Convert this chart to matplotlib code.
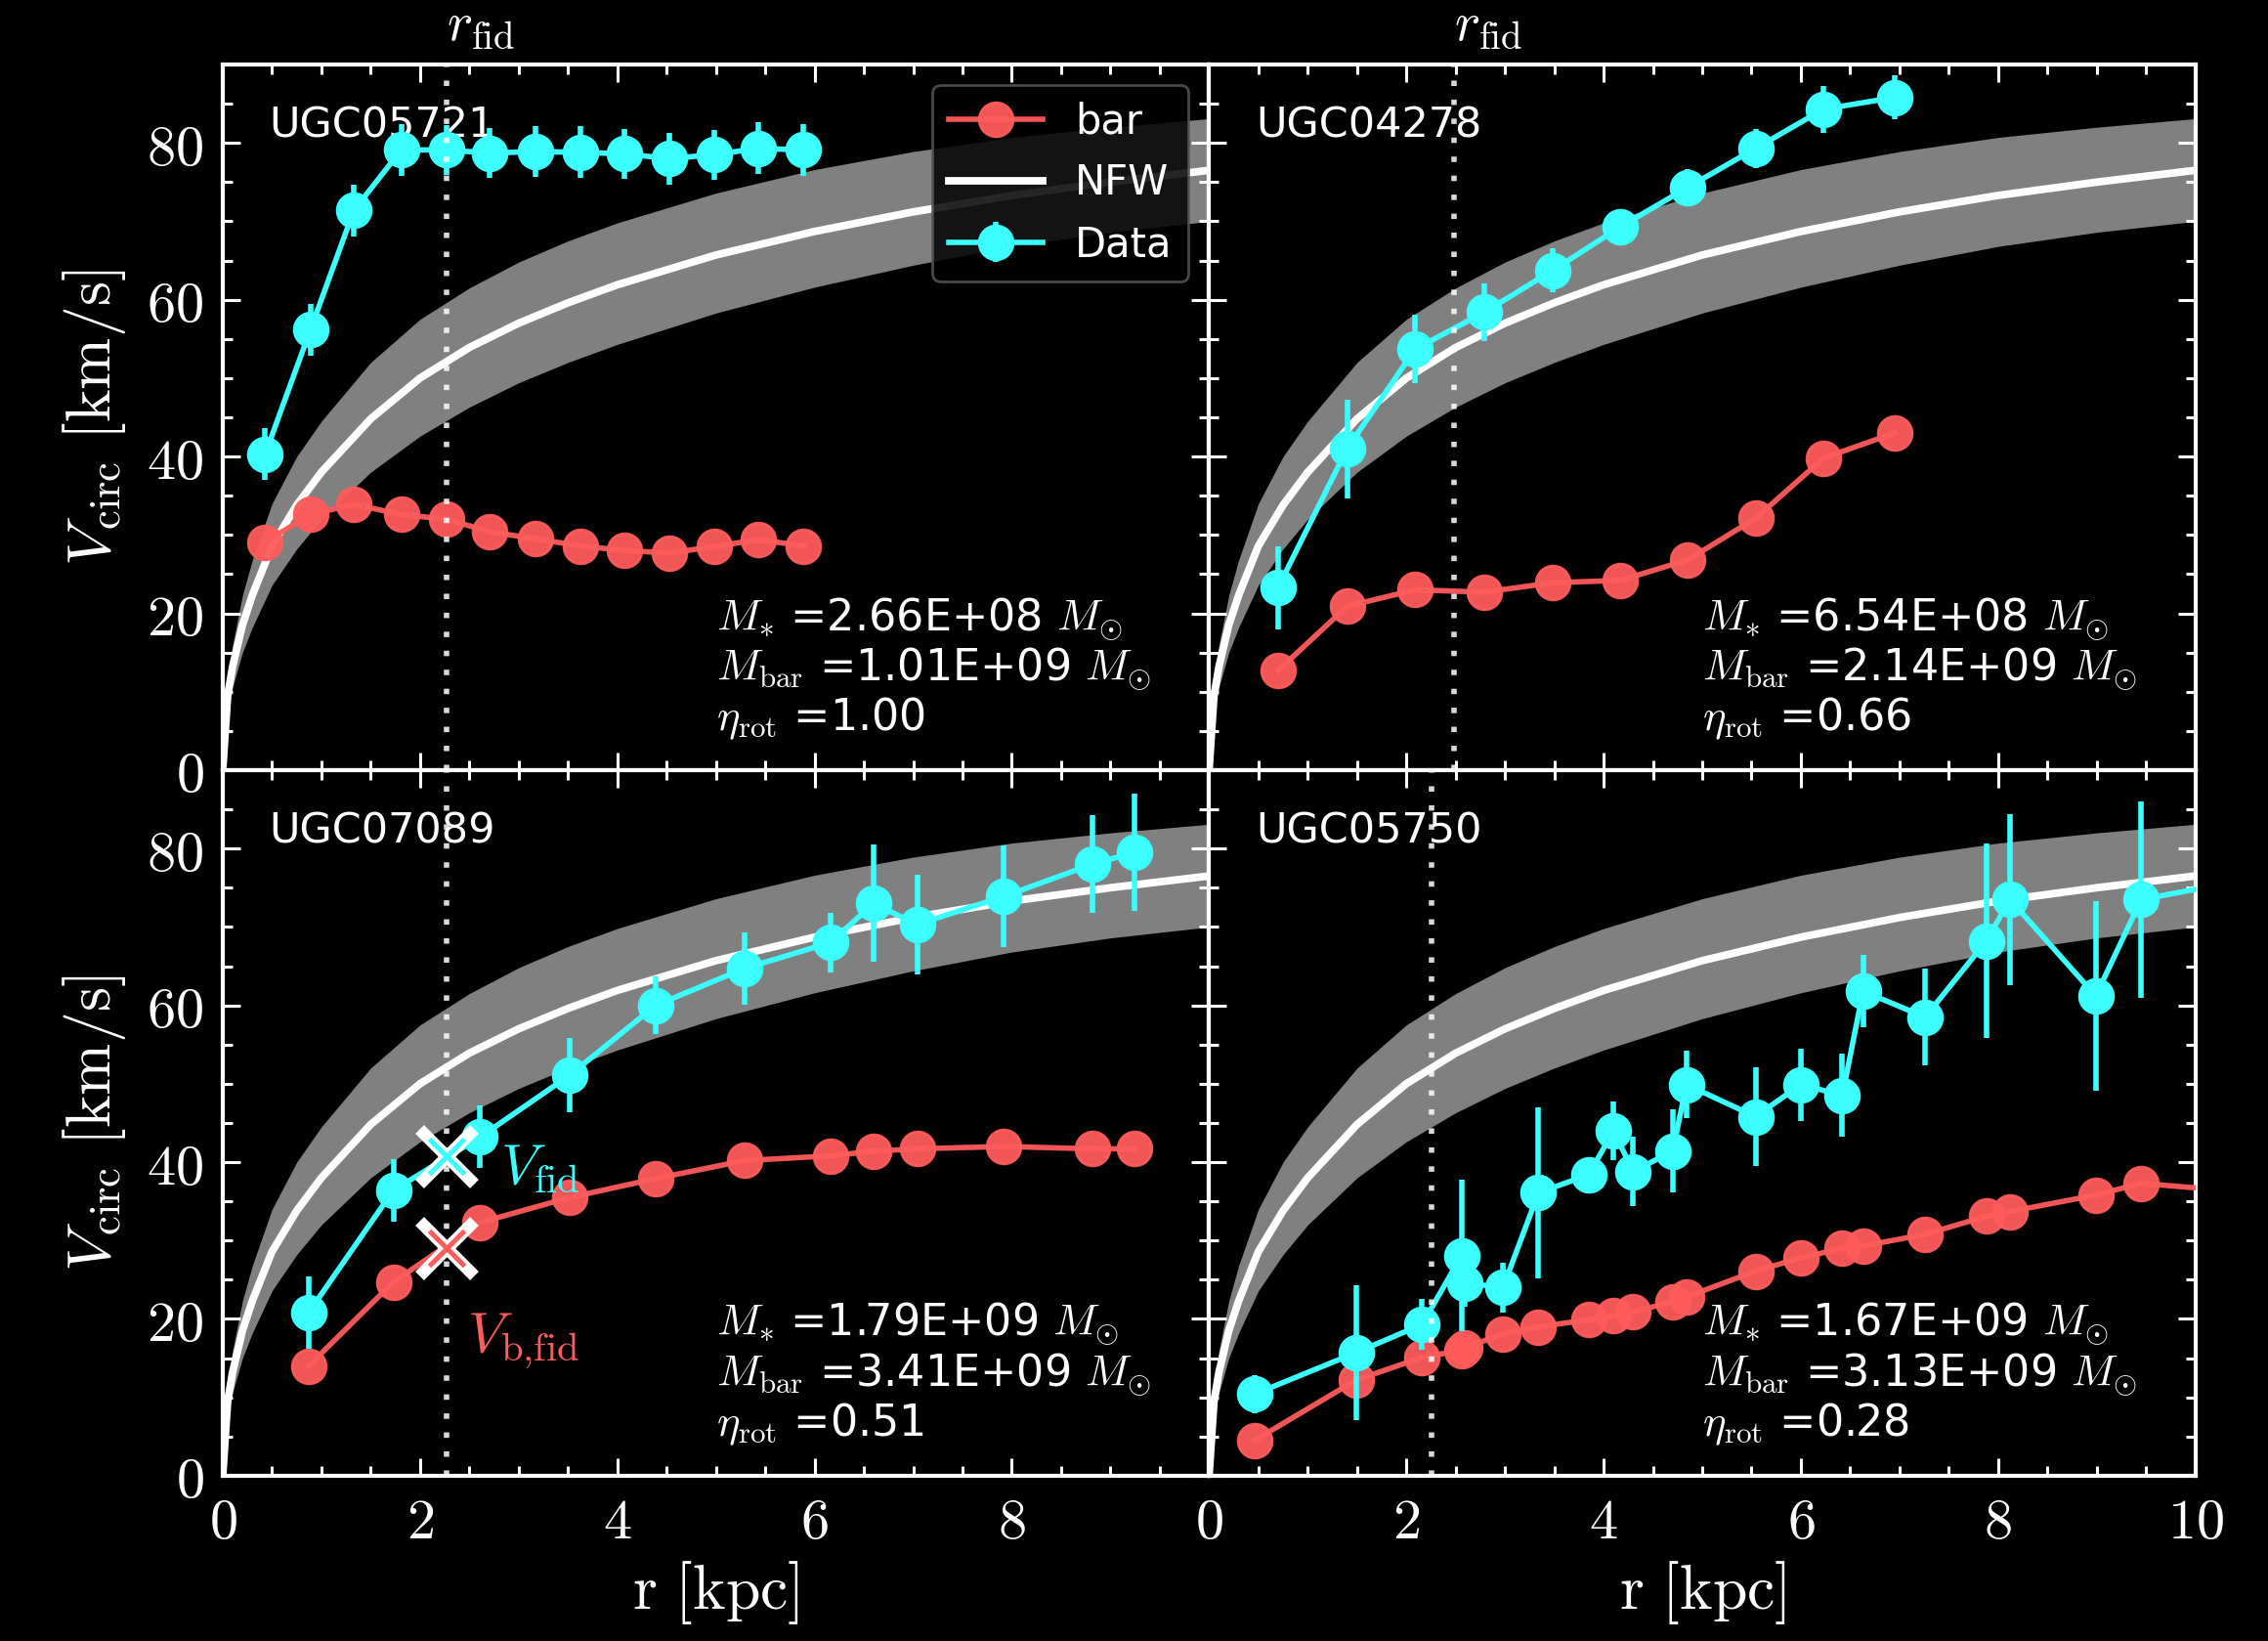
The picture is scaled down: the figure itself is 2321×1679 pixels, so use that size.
import matplotlib.pyplot as plt
from matplotlib.ticker import MultipleLocator, FuncFormatter

plt.rcParams['mathtext.fontset'] = 'cm'
plt.rcParams['font.family'] = 'DejaVu Sans'

# NFW model curve and its scatter band
nfw_r = [0, 0.05, 0.1, 0.2, 0.3, 0.5, 0.75, 1.0, 1.5, 2.0, 2.5, 3.0, 3.5, 4.0, 5.0, 6.0, 7.0, 8.0, 9.0, 10.0]
nfw_v = [0, 9.5, 13.2, 18.5, 22.3, 28.6, 33.8, 38.0, 44.8, 50.0, 53.9, 57.0, 59.6, 61.9, 65.7, 68.7, 71.2, 73.3, 75.0, 76.5]
nfw_hi = [0, 11.5, 16.0, 22.3, 26.8, 34.0, 40.0, 44.5, 52.0, 57.5, 61.5, 64.8, 67.5, 69.8, 73.6, 76.6, 78.9, 80.7, 82.0, 83.1]
nfw_lo = [0, 7.5, 10.6, 15.0, 18.2, 23.6, 28.2, 32.0, 38.0, 42.6, 46.3, 49.4, 52.0, 54.3, 58.3, 61.6, 64.4, 66.8, 68.6, 70.0]

names = ['UGC05721', 'UGC04278', 'UGC07089', 'UGC05750']
r_fid = [2.27, 2.48, 2.27, 2.26]
mstar = ['2.66E+08', '6.54E+08', '1.79E+09', '1.67E+09']
mbar = ['1.01E+09', '2.14E+09', '3.41E+09', '3.13E+09']
eta = ['1.00', '0.66', '0.51', '0.28']

# UGC05721
r1 = [0.43, 0.89, 1.33, 1.81, 2.27, 2.71, 3.17, 3.63, 4.07, 4.53, 4.98, 5.43, 5.89]
v1_data = [40.3, 56.2, 71.4, 79.1, 79.1, 78.7, 78.9, 78.8, 78.6, 78.0, 78.5, 79.3, 79.1]
e1_data = [3.3, 3.3, 3.3, 3.3, 3.2, 3.2, 3.2, 3.3, 3.2, 3.3, 3.2, 3.3, 3.3]
v1_bar = [29.1, 32.6, 33.9, 32.6, 32.0, 30.4, 29.5, 28.6, 28.0, 27.7, 28.5, 29.4, 28.6]

# UGC04278
r2 = [0.70, 1.40, 2.09, 2.79, 3.48, 4.17, 4.85, 5.54, 6.23, 6.95]
v2_data = [23.3, 41.0, 53.7, 58.4, 63.7, 69.3, 74.3, 79.3, 84.3, 85.8]
e2_data = [5.3, 6.3, 4.4, 3.7, 2.8, 2.3, 2.3, 2.5, 3.0, 2.8]
v2_bar = [12.7, 20.9, 23.0, 22.7, 23.9, 24.2, 26.8, 32.1, 39.8, 43.0]

# UGC07089
r3 = [0.87, 1.73, 2.61, 3.52, 4.39, 5.29, 6.16, 6.60, 7.04, 7.92, 8.82, 9.24]
v3_data = [20.8, 36.4, 43.2, 51.1, 60.0, 64.7, 68.0, 73.0, 70.3, 73.9, 78.0, 79.5]
e3_data = [4.6, 4.0, 4.0, 4.7, 3.7, 4.6, 3.8, 7.5, 6.3, 6.5, 6.2, 7.5]
v3_bar = [14.0, 24.7, 32.3, 35.5, 37.9, 40.2, 40.8, 41.4, 41.7, 42.0, 41.7, 41.7]
v_fid = 40.8
vb_fid = 29.0

# UGC05750
r4 = [0.46, 1.49, 2.16, 2.56, 2.59, 2.98, 3.34, 3.85, 4.10, 4.30, 4.70, 4.84, 5.54, 6.00,
      6.42, 6.63, 7.26, 7.88, 8.12, 8.99, 9.45, 10.3]
v4_data = [10.4, 15.7, 19.3, 28.1, 24.6, 24.0, 36.1, 38.4, 44.0, 38.8, 41.4, 49.9, 45.8, 49.9,
           48.5, 61.8, 58.5, 68.2, 73.5, 61.2, 73.5, 75.5]
e4_data = [2.4, 8.6, 3.2, 9.6, 3.0, 3.2, 10.9, 2.0, 3.7, 4.4, 5.3, 4.3, 6.3, 4.6,
           5.3, 4.6, 6.2, 12.4, 10.9, 12.1, 12.5, 3.0]
v4_bar = [4.5, 12.2, 15.1, 16.0, 16.3, 18.1, 19.0, 19.9, 20.4, 20.9, 22.2, 22.8, 26.1, 27.8,
          29.0, 29.3, 30.8, 33.1, 33.7, 35.8, 37.3, 36.4]

r_all = [r1, r2, r3, r4]
data_all = [v1_data, v2_data, v3_data, v4_data]
err_all = [e1_data, e2_data, e3_data, e4_data]
bar_all = [v1_bar, v2_bar, v3_bar, v4_bar]

red = '#ff5c5c'
cyan = '#3cffff'

fig, axes = plt.subplots(2, 2, figsize=(11.605, 8.395), dpi=200, facecolor='black')
fig.subplots_adjust(left=0.0982, right=0.968, top=0.9607, bottom=0.1007, hspace=0, wspace=0)

for i, ax in enumerate(axes.flat):
    row, col = divmod(i, 2)
    ax.set_facecolor('black')

    ax.fill_between(nfw_r, nfw_lo, nfw_hi, color='0.5', lw=0, zorder=1)
    h_nfw, = ax.plot(nfw_r, nfw_v, color='white', lw=2.8, zorder=2, label='NFW')
    h_bar, = ax.plot(r_all[i], bar_all[i], '-o', color=red, ms=12.5, lw=2.0, alpha=0.95,
                     zorder=3, label='bar')
    h_data = ax.errorbar(r_all[i], data_all[i], yerr=err_all[i], fmt='-o', color=cyan, ms=12.5,
                         lw=2.0, elinewidth=2.0, capsize=0, zorder=4, label='Data')
    ax.axvline(r_fid[i], color='white', lw=2, ls=(0, (1, 2.5)), alpha=0.85, zorder=5)

    if row == 0:
        ax.text(r_fid[i], 1.018, r'$r_{\rm fid}$', transform=ax.get_xaxis_transform(),
                ha='left', va='bottom', color='white', fontsize=20)

    ax.text(0.047, 0.897, names[i], transform=ax.transAxes, color='white', fontsize=15.5)
    ax.text(0.50, 0.198, r'$M_{*}$ =' + mstar[i] + r' $M_{\odot}$', transform=ax.transAxes,
            color='white', fontsize=16)
    ax.text(0.50, 0.126, r'$M_{\rm bar}$ =' + mbar[i] + r' $M_{\odot}$', transform=ax.transAxes,
            color='white', fontsize=16)
    ax.text(0.50, 0.056, r'$\eta_{\rm rot}$ =' + eta[i], transform=ax.transAxes,
            color='white', fontsize=16)

    ax.set_xlim(0, 10)
    ax.set_ylim(0, 90)
    ax.xaxis.set_major_locator(MultipleLocator(2))
    ax.xaxis.set_minor_locator(MultipleLocator(0.5))
    ax.yaxis.set_major_locator(MultipleLocator(20))
    ax.yaxis.set_minor_locator(MultipleLocator(5))
    if col == 0:
        ax.xaxis.set_major_formatter(FuncFormatter(lambda v, p: '' if v > 9 else r'$%d$' % v))
    else:
        ax.xaxis.set_major_formatter(FuncFormatter(lambda v, p: r'$%d$' % v))
    ax.yaxis.set_major_formatter(FuncFormatter(lambda v, p: r'$%d$' % v))
    ax.tick_params(which='both', direction='in', top=True, right=True, colors='white',
                   width=1.1, labelbottom=(row == 1), labelleft=(col == 0))
    ax.tick_params(which='major', length=6.5, labelsize=21, pad=7)
    ax.tick_params(which='minor', length=3.6)
    for s in ax.spines.values():
        s.set_color('white')
        s.set_linewidth(1.5)

    if row == 1:
        ax.set_xlabel(r'${\rm r\ [kpc]}$', color='white', fontsize=23, labelpad=3)
    if col == 0:
        ax.set_ylabel(r'$V_{\rm circ}\ [{\rm km/s}]$', color='white', fontsize=23, labelpad=7)

    if i == 0:
        leg = ax.legend([h_bar, h_nfw, h_data], ['bar', 'NFW', 'Data'], loc='upper right',
                        fontsize=15, facecolor='black', edgecolor='#555555', framealpha=0.85,
                        handlelength=2.3, labelspacing=0.5, borderaxespad=0.5)
        for t in leg.get_texts():
            t.set_color('white')
        leg.set_zorder(10)

    if i == 2:
        for v, c in [(v_fid, cyan), (vb_fid, red)]:
            ax.plot(r_fid[i], v, 'x', color='white', ms=20, mew=4.5, zorder=6)
            ax.plot(r_fid[i], v, 'x', color=c, ms=13, mew=1.8, zorder=7)
        ax.text(r_fid[i] + 0.54, v_fid - 3.5, r'$V_{\rm fid}$', color=cyan, fontsize=21)
        ax.text(r_fid[i] + 0.21, vb_fid - 13.2, r'$V_{\rm b{,}fid}$', color=red, fontsize=21)

fig.savefig('out.png', dpi=200, facecolor='black')
